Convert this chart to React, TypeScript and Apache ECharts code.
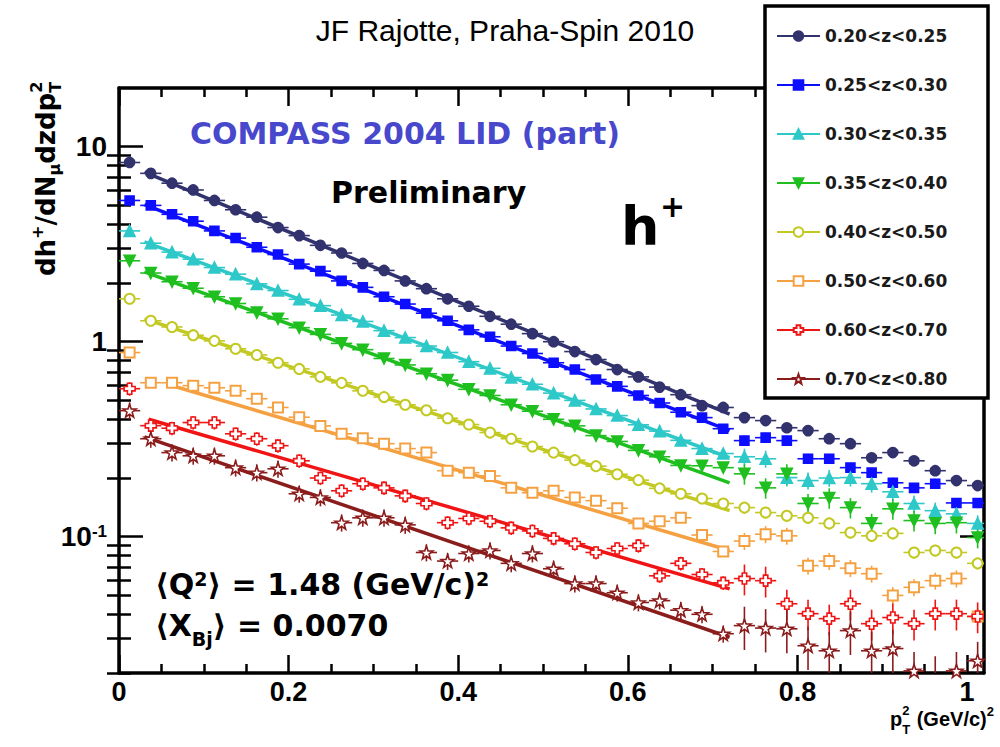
import React, { useEffect, useRef } from 'react';
import * as echarts from 'echarts';

// ---------- data ----------
const ptBins = [
  0.0125, 0.0375, 0.0625, 0.0875, 0.1125, 0.1375, 0.1625, 0.1875, 0.2125, 0.2375,
  0.2625, 0.2875, 0.3125, 0.3375, 0.3625, 0.3875, 0.4125, 0.4375, 0.4625, 0.4875,
  0.5125, 0.5375, 0.5625, 0.5875, 0.6125, 0.6375, 0.6625, 0.6875, 0.7125, 0.7375,
  0.7625, 0.7875, 0.8125, 0.8375, 0.8625, 0.8875, 0.9125, 0.9375, 0.9625, 0.9875, 1.0125,
];

const zBins = [
  '0.20<z<0.25', '0.25<z<0.30', '0.30<z<0.35', '0.35<z<0.40',
  '0.40<z<0.50', '0.50<z<0.60', '0.60<z<0.70', '0.70<z<0.80',
];

const z020 = [
  8.3, 7.3, 6.5, 6.0, 5.3, 4.75, 4.35, 3.85, 3.5, 3.12, 2.85, 2.52, 2.32, 2.05, 1.87, 1.66, 1.52, 1.35, 1.23, 1.1,
  1.0, 0.89, 0.81, 0.72, 0.66, 0.585, 0.535, 0.47, 0.46, 0.408, 0.394, 0.362, 0.35, 0.318, 0.3, 0.254, 0.27, 0.245,
  0.218, 0.194, 0.183,
];
const z025 = [
  5.3, 5.0, 4.5, 4.15, 3.7, 3.4, 3.05, 2.8, 2.5, 2.3, 2.05, 1.9, 1.7, 1.56, 1.4, 1.28, 1.15, 1.06, 0.95, 0.87,
  0.78, 0.72, 0.64, 0.59, 0.53, 0.485, 0.435, 0.408, 0.358, 0.311, 0.322, 0.311, 0.251, 0.251, 0.226, 0.213, 0.189,
  0.178, 0.187, 0.149, 0.149,
];
const z030 = [
  3.7, 3.2, 2.88, 2.65, 2.4, 2.22, 1.98, 1.83, 1.65, 1.53, 1.37, 1.27, 1.14, 1.05, 0.95, 0.88, 0.79, 0.73, 0.655, 0.605,
  0.545, 0.5, 0.452, 0.418, 0.375, 0.348, 0.312, 0.283, 0.267, 0.257, 0.251, 0.201, 0.194, 0.2, 0.201, 0.187, 0.17,
  0.148, 0.136, 0.131, 0.117,
];
const z035 = [
  2.6, 2.25, 2.03, 1.88, 1.7, 1.57, 1.41, 1.31, 1.18, 1.09, 0.98, 0.91, 0.82, 0.76, 0.685, 0.635, 0.57, 0.53, 0.475, 0.44,
  0.4, 0.37, 0.33, 0.308, 0.277, 0.257, 0.232, 0.231, 0.226, 0.21, 0.178, 0.21, 0.148, 0.158, 0.141, 0.117, 0.139,
  0.121, 0.117, 0.118, 0.099,
];
const z040 = [
  1.66, 1.28, 1.19, 1.08, 1.01, 0.92, 0.855, 0.78, 0.725, 0.66, 0.615, 0.56, 0.52, 0.475, 0.445, 0.405, 0.376, 0.342,
  0.318, 0.29, 0.27, 0.247, 0.23, 0.209, 0.195, 0.177, 0.166, 0.157, 0.148, 0.141, 0.133, 0.128, 0.125, 0.117, 0.105,
  0.101, 0.104, 0.083, 0.085, 0.083, 0.073,
];
const z050 = [
  0.88, 0.616, 0.616, 0.595, 0.58, 0.56, 0.51, 0.46, 0.41, 0.37, 0.337, 0.32, 0.3, 0.283, 0.27, 0.218, 0.213, 0.205,
  0.178, 0.168, 0.172, 0.159, 0.153, 0.14, 0.117, 0.12, 0.125, 0.102, 0.084, 0.095, 0.103, 0.101, 0.071, 0.075, 0.069,
  0.0646, 0.05, 0.055, 0.0595, 0.061, 0.039,
];
const z060 = [
  0.574, 0.371, 0.36, 0.385, 0.385, 0.337, 0.318, 0.293, 0.245, 0.2, 0.172, 0.187, 0.178, 0.162, 0.148, 0.118, 0.124,
  0.12, 0.111, 0.107, 0.098, 0.092, 0.083, 0.087, 0.09, 0.063, 0.073, 0.064, 0.058, 0.061, 0.0595, 0.0453, 0.0403,
  0.038, 0.0453, 0.0358, 0.0385, 0.0358, 0.0403, 0.0403, 0.039,
];
const z070 = [
  0.443, 0.318, 0.27, 0.26, 0.26, 0.226, 0.213, 0.223, 0.166, 0.159, 0.118, 0.125, 0.125, 0.115, 0.083, 0.075, 0.082,
  0.085, 0.073, 0.082, 0.0685, 0.0575, 0.0575, 0.0516, 0.046, 0.047, 0.042, 0.04, 0.0318, 0.035, 0.034, 0.0337,
  0.0276, 0.026, 0.033, 0.026, 0.0267, 0.0205, 0.0195, 0.0205, 0.0231,
];

// exponential fits (straight on the log axis), start and end points
const fitStartX = [0.03, 0.03, 0.03, 0.03, 0.03, 0.06, 0.035, 0.03];
const fitStartY = [7.4, 5.05, 3.25, 2.28, 1.31, 0.6, 0.4, 0.325];
const fitEndX = [0.72, 0.72, 0.72, 0.72, 0.72, 0.72, 0.72, 0.72];
const fitEndY = [0.425, 0.35, 0.254, 0.189, 0.136, 0.085, 0.054, 0.0305];

// relative statistical errors (fit region / tail)
const errFit = [0.02, 0.03, 0.04, 0.04, 0.04, 0.05, 0.08, 0.1];
const errTail = [0.04, 0.06, 0.1, 0.12, 0.07, 0.1, 0.18, 0.25];
const binHalfWidth = 0.0125;
const tailStart = 0.72;

const xMajor = [0, 0.2, 0.4, 0.6, 0.8, 1];
const xMinor = [0.05, 0.1, 0.15, 0.25, 0.3, 0.35, 0.45, 0.5, 0.55, 0.65, 0.7, 0.75, 0.85, 0.9, 0.95];
const yMajor = [0.1, 1, 10];
const yMinor = [
  0.02, 0.03, 0.04, 0.05, 0.06, 0.07, 0.08, 0.09,
  0.2, 0.3, 0.4, 0.5, 0.6, 0.7, 0.8, 0.9,
  2, 3, 4, 5, 6, 7, 8, 9,
];

// ---------- style ----------
const SANS = '"Liberation Sans", Arial, Helvetica, sans-serif';
const WIDE = '"DejaVu Sans", Verdana, sans-serif';
const colors = ['#32326e', '#0d0dff', '#2ec8c8', '#1fbf1f', '#c2c922', '#f5a142', '#f01414', '#8b1c1c'];
const crossPath =
  'path://M3,0 L7,0 L7,3 L10,3 L10,7 L7,7 L7,10 L3,10 L3,7 L0,7 L0,3 L3,3 Z';
const starPath =
  'path://M50,0 L61.76,33.82 L97.55,34.55 L69.02,56.18 L79.39,90.45 L50,70 L20.61,90.45 L30.98,56.18 L2.45,34.55 L38.24,33.82 Z';
const markers: any[] = [
  { symbol: 'circle', size: 10, rotate: 0, hollow: false },
  { symbol: 'rect', size: 9, rotate: 0, hollow: false },
  { symbol: 'triangle', size: 11, rotate: 0, hollow: false },
  { symbol: 'triangle', size: 11, rotate: 180, hollow: false },
  { symbol: 'emptyCircle', size: 10, rotate: 0, hollow: false },
  { symbol: 'emptyRect', size: 10, rotate: 0, hollow: false },
  { symbol: crossPath, size: 11, rotate: 0, hollow: true },
  { symbol: starPath, size: 13, rotate: 0, hollow: true },
];

const seriesValues = [z020, z025, z030, z035, z040, z050, z060, z070];

let measureCtx: CanvasRenderingContext2D | null = null;
function textWidth(text: string, size: number, family: string): number {
  if (!measureCtx) measureCtx = document.createElement('canvas').getContext('2d');
  if (!measureCtx) return text.length * size * 0.6;
  measureCtx.font = `bold ${size}px ${family}`;
  return measureCtx.measureText(text).width;
}

function boldText(text: string, x: number, y: number, size: number, family: string, extra: any = {}) {
  return {
    type: 'text',
    x,
    y,
    style: { text, fontSize: size, fontWeight: 'bold', fontFamily: family, fill: '#000', verticalAlign: 'middle', ...extra },
  };
}

function buildYTitle(): any {
  // laid out along local x (which is rotated to point upwards)
  const big = 26;
  const small = 16;
  const children: any[] = [];
  let cx = 0;
  const add = (t: string, size: number, dy: number, advance = true) => {
    children.push(boldText(t, cx, dy, size, WIDE));
    const w = textWidth(t, size, WIDE);
    if (advance) cx += w;
    return w;
  };
  add('dh', big, 0);
  add('+', small, -9);
  add('/dN', big, 0);
  add('\u03bc', small, 8);
  add('dzdp', big, 0);
  const w2 = add('2', small, -10, false);
  const wT = add('T', small, 9, false);
  cx += Math.max(w2, wT);
  return { type: 'group', x: 46, y: 276, rotation: Math.PI / 2, children, z: 20 };
}

function buildXTitle(): any {
  const big = 20;
  const small = 13;
  const children: any[] = [];
  let cx = 0;
  const add = (t: string, size: number, dy: number, advance = true) => {
    children.push(boldText(t, cx, dy, size, SANS));
    const w = textWidth(t, size, SANS);
    if (advance) cx += w;
    return w;
  };
  add('p', big, 0);
  const w2 = add('2', small, -9, false);
  const wT = add('T', small, 10, false);
  cx += Math.max(w2, wT) + 1;
  add(' (GeV/c)', big, 0);
  add('2', small, -8);
  return { type: 'group', x: 890, y: 719, children, z: 20 };
}

function buildOption(): any {
  const series: any[] = [];
  seriesValues.forEach((vals, k) => {
    const c = colors[k];
    series.push({
      type: 'line',
      name: 'fit' + k,
      data: [[fitStartX[k], fitStartY[k]], [fitEndX[k], fitEndY[k]]],
      symbol: 'none',
      lineStyle: { color: c, width: 3.5 },
      z: 3,
      silent: true,
      clip: true,
    });
    series.push({
      type: 'custom',
      name: 'err' + k,
      data: ptBins.map((x, i) => {
        const e = x > tailStart ? errTail[k] : errFit[k];
        return [x, vals[i], vals[i] * (1 - e), vals[i] * (1 + e)];
      }),
      encode: { x: 0, y: 1 },
      clip: true,
      z: 4,
      silent: true,
      renderItem: (params: any, api: any) => {
        const x = api.value(0);
        const y = api.value(1);
        const pL = api.coord([x - binHalfWidth, y]);
        const pR = api.coord([x + binHalfWidth, y]);
        const pB = api.coord([x, api.value(2)]);
        const pT = api.coord([x, api.value(3)]);
        return {
          type: 'group',
          children: [
            { type: 'line', shape: { x1: pL[0], y1: pL[1], x2: pR[0], y2: pR[1] }, style: { stroke: c, lineWidth: 1.6 } },
            { type: 'line', shape: { x1: pB[0], y1: pB[1], x2: pT[0], y2: pT[1] }, style: { stroke: c, lineWidth: 1.6 } },
          ],
        };
      },
    });
    const m = markers[k];
    series.push({
      type: 'line',
      name: zBins[k],
      data: ptBins.map((x, i) => [x, vals[i]]),
      symbol: m.symbol,
      symbolSize: m.size,
      symbolRotate: m.rotate,
      showAllSymbol: true,
      lineStyle: { color: c, width: 0, opacity: 0 },
      itemStyle: m.hollow
        ? { color: '#ffffff', borderColor: c, borderWidth: 1.6 }
        : { color: c, borderColor: c, borderWidth: 1.6 },
      emphasis: { disabled: true },
      z: 5,
      clip: true,
      silent: true,
    });
  });

  const axisLineStyle = { color: '#000', width: 3.5 };
  const tickStyle = { color: '#000', width: 2.5 };
  const xBase = { type: 'value', min: 0, max: 1.02, splitLine: { show: false } };
  const yBase = { type: 'log', logBase: 10, min: 0.02, max: 20, splitLine: { show: false } };
  const hidden = { axisLabel: { show: false }, axisLine: { show: false } };

  const xAxis = [
    {
      ...xBase,
      position: 'bottom',
      axisLine: { show: true, onZero: false, lineStyle: axisLineStyle },
      axisTick: { show: true, inside: true, length: 18, customValues: xMajor, lineStyle: tickStyle },
      axisLabel: {
        show: true,
        customValues: xMajor,
        formatter: (v: number) => (Math.abs(v) < 1e-9 ? '0' : Math.abs(v - 1) < 1e-9 ? '1' : v.toFixed(1)),
        fontSize: 27,
        fontWeight: 'bold',
        fontFamily: SANS,
        color: '#000',
        margin: 5,
      },
    },
    { ...xBase, ...hidden, position: 'bottom', axisTick: { show: true, inside: true, length: 9, customValues: xMinor, lineStyle: tickStyle } },
    {
      ...xBase,
      position: 'top',
      axisLabel: { show: false },
      axisLine: { show: true, onZero: false, lineStyle: axisLineStyle },
      axisTick: { show: true, inside: true, length: 18, customValues: xMajor, lineStyle: tickStyle },
    },
    { ...xBase, ...hidden, position: 'top', axisTick: { show: true, inside: true, length: 9, customValues: xMinor, lineStyle: tickStyle } },
  ];

  const yAxis = [
    {
      ...yBase,
      position: 'left',
      axisLine: { show: true, onZero: false, lineStyle: axisLineStyle },
      axisTick: { show: true, inside: true, length: 24, customValues: yMajor, lineStyle: tickStyle },
      axisLabel: {
        show: true,
        customValues: yMajor,
        margin: 12,
        formatter: (v: number) =>
          Math.abs(v - 10) < 1e-6 ? '{b|10}' : Math.abs(v - 1) < 1e-6 ? '{b|1}' : '{b|10}{s|-1}',
        rich: {
          b: { fontSize: 28, fontWeight: 'bold', fontFamily: SANS, color: '#000' },
          s: { fontSize: 17, fontWeight: 'bold', fontFamily: SANS, color: '#000', verticalAlign: 'top' },
        },
      },
    },
    { ...yBase, ...hidden, position: 'left', axisTick: { show: true, inside: true, length: 12, customValues: yMinor, lineStyle: tickStyle } },
    {
      ...yBase,
      position: 'right',
      axisLabel: { show: false },
      axisLine: { show: true, onZero: false, lineStyle: axisLineStyle },
      axisTick: { show: true, inside: true, length: 24, customValues: yMajor, lineStyle: tickStyle },
    },
    { ...yBase, ...hidden, position: 'right', axisTick: { show: true, inside: true, length: 12, customValues: yMinor, lineStyle: tickStyle } },
  ];

  const graphic = [
    {
      type: 'text',
      x: 505,
      y: 30,
      style: { text: 'JF Rajotte, Praha-Spin 2010', fontSize: 30, fontFamily: SANS, fill: '#000', align: 'center', verticalAlign: 'middle' },
      z: 20,
    },
    {
      type: 'rect',
      shape: { x: 765, y: 6, width: 223, height: 392 },
      style: { fill: '#fff', stroke: '#000', lineWidth: 3.5 },
      z: 6,
    },
    { ...boldText('COMPASS 2004 LID (part)', 190, 133, 30, WIDE, { fill: '#4848cc' }), z: 20 },
    { ...boldText('Preliminary', 331, 192, 30, WIDE), z: 20 },
    { ...boldText('h', 621, 226, 54, WIDE), z: 20 },
    { ...boldText('+', 660, 206, 30, WIDE), z: 20 },
    {
      type: 'text',
      x: 155,
      y: 584,
      style: {
        text: '{t|\u27e8Q}{s|2}{t|\u27e9 = 1.48 (GeV/c)}{s|2}',
        verticalAlign: 'middle',
        rich: {
          t: { fontSize: 30, fontWeight: 'bold', fontFamily: WIDE, fill: '#000' },
          s: { fontSize: 19, fontWeight: 'bold', fontFamily: WIDE, fill: '#000', verticalAlign: 'top' },
        },
      },
      z: 20,
    },
    {
      type: 'text',
      x: 155,
      y: 625,
      style: {
        text: '{t|\u27e8X}{b|Bj}{t|\u27e9 = 0.0070}',
        verticalAlign: 'middle',
        rich: {
          t: { fontSize: 30, fontWeight: 'bold', fontFamily: WIDE, fill: '#000' },
          b: { fontSize: 19, fontWeight: 'bold', fontFamily: WIDE, fill: '#000', verticalAlign: 'bottom', padding: [0, 0, -8, 0] },
        },
      },
      z: 20,
    },
    buildYTitle(),
    buildXTitle(),
  ];

  return {
    animation: false,
    backgroundColor: '#ffffff',
    grid: { left: 119, right: 16, top: 88, bottom: 74, containLabel: false },
    xAxis,
    yAxis,
    legend: {
      data: zBins,
      orient: 'vertical',
      left: 771,
      top: 21,
      itemWidth: 43,
      itemHeight: 12,
      itemGap: 29,
      selectedMode: false,
      z: 10,
      lineStyle: { width: 2, opacity: 1, type: 'solid' },
      textStyle: { fontSize: 17, fontWeight: 'bold', fontFamily: WIDE, color: '#1a1a1a', lineHeight: 20 },
    },
    graphic,
    series,
  };
}

export default function App() {
  const ref = useRef<HTMLDivElement>(null);
  useEffect(() => {
    document.body.style.margin = '0';
    if (!ref.current) return;
    const chart = echarts.init(ref.current, undefined, { renderer: 'svg' });
    chart.setOption(buildOption());
    return () => chart.dispose();
  }, []);
  return <div ref={ref} style={{ width: 1000, height: 747 }} />;
}
